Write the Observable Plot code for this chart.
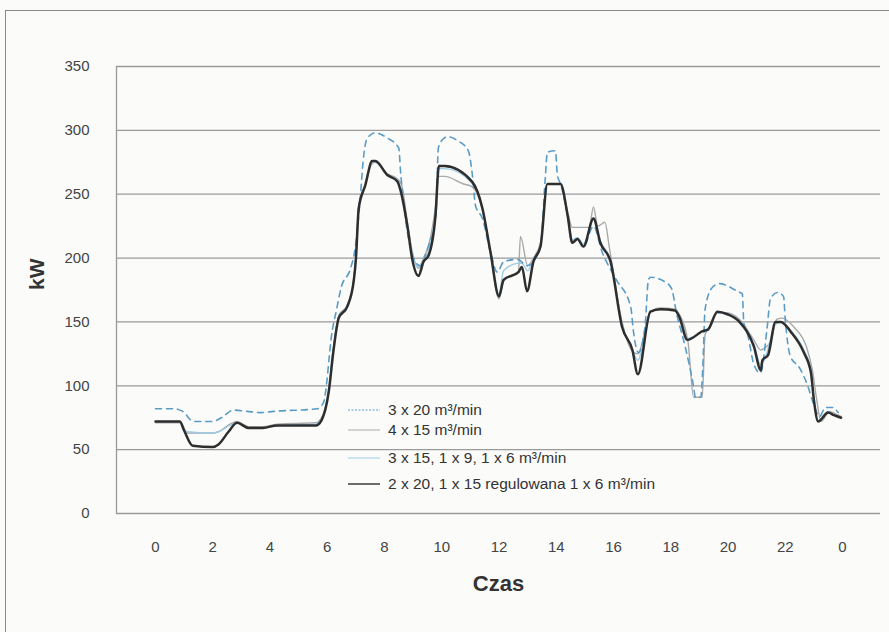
<!DOCTYPE html>
<html><head><meta charset="utf-8">
<script src="https://cdn.jsdelivr.net/npm/d3@7"></script>
<script src="https://cdn.jsdelivr.net/npm/@observablehq/plot@0.6"></script>
<style>
html,body{margin:0;padding:0;background:#fbfbfa;}
#wrap{position:relative;width:889px;height:632px;overflow:hidden;font-family:"Liberation Sans",Arial,sans-serif;}
#border{position:absolute;left:5px;top:10px;width:900px;height:640px;border-left:1.5px solid #8a8a8a;border-top:1.5px solid #8a8a8a;}
#chart{position:absolute;left:0;top:0;}
#chart g[aria-label*="tick label"] text, #chart g[aria-label*="tick label"]{font-size:15px !important;}
.lg{position:absolute;left:348px;height:18px;display:flex;align-items:center;font-size:15.5px;color:#333;white-space:nowrap;}
.lg svg{margin-right:8px;}
</style></head>
<body>
<div id="wrap"><div id="border"></div><div id="chart"></div><div id="legend"></div></div>
<script>
// Series names
const seriesNames = [
  "3 x 20 m³/min",
  "4 x 15 m³/min",
  "3 x 15, 1 x 9, 1 x 6 m³/min",
  "2 x 20, 1 x 15 regulowana 1 x 6 m³/min"
];
// Axis ticks
const yTicks = [0, 50, 100, 150, 200, 250, 300, 350];
const xTicks = [0, 2, 4, 6, 8, 10, 12, 14, 16, 18, 20, 22, 24];

// Series 1: 3 x 20 (dashed)
const hours1 = [0,0.65,0.95,1.33,2.0,2.3,2.73,3.2,3.67,4.13,5.65,5.87,6.18,6.3,6.5,6.8,6.97,7.16,7.25,7.4,7.68,8.1,8.5,8.56,8.68,8.84,9.08,9.25,9.5,9.8,9.88,10.0,10.2,10.55,10.93,11.07,11.18,11.42,11.7,11.94,12.16,12.64,13.0,13.45,13.62,13.69,13.97,14.04,14.15,14.4,14.56,14.74,14.95,15.3,15.6,16.1,16.6,16.7,16.87,17.1,17.22,17.3,17.75,18.03,18.2,18.5,18.8,18.86,19.05,19.12,19.2,19.45,19.7,20.33,20.5,20.55,20.7,20.9,21.13,21.37,21.48,21.73,21.94,22.0,22.18,22.5,22.8,22.97,23.2,23.4,23.65,23.85];
const kw1 = [82,82,80,72,72,75,81,80,79,80,82,87,144,157,178,191,207,249,275,294,298,294,286,268,241,215,197,194,207,235,286,292,295,292,284,265,241,231,205,189,197,199,194,209,264,283,284,265,258,233,212,215,209,225,205,183,162,142,126,146,183,185,182,176,157,131,99,91,91,115,160,177,180,174,172,150,139,117,110,146,168,173,170,152,123,114,99,87,76,83,83,79];

// Series 2: 4 x 15 (gray)
const hours2 = [0,0.85,1.1,2.0,2.2,2.6,2.85,3.25,3.75,4.25,5.6,5.8,6.05,6.22,6.4,6.7,6.93,7.0,7.1,7.33,7.57,7.68,8.1,8.45,8.6,8.8,8.97,9.19,9.36,9.54,9.78,9.9,10.1,10.76,11.05,11.42,11.7,12.0,12.16,12.68,12.75,13.0,13.2,13.45,13.69,14.15,14.4,14.56,15.15,15.3,15.45,15.7,15.85,16.3,16.66,16.85,17.29,17.64,18.15,18.3,18.6,18.8,19.1,19.2,19.35,19.63,19.98,20.4,20.9,21.15,21.3,21.5,21.7,21.9,22.3,22.75,22.95,23.1,23.25,23.55,23.75,23.95];
const kw2 = [71,71,63,63,64,70,72,68,68,70,71,75,96,130,155,163,184,200,240,258,274,275,266,262,257,228,205,192,200,210,240,264,264,258,256,238,204,168,182,190,217,194,200,212,258,258,236,224,224,240,225,228,209,150,127,125,158,161,160,156,135,91,91,140,146,157,157,152,136,128,130,135,152,153,146,130,112,89,72,80,78,76];

// Series 3: 3 x 15, 1 x 9, 1 x 6 (light blue)
const hours3 = [0,0.85,1.1,2.0,2.2,2.6,2.85,3.25,3.75,4.25,5.6,5.8,6.05,6.22,6.4,6.7,6.93,7.0,7.1,7.33,7.57,7.68,8.1,8.45,8.56,8.8,8.97,9.19,9.36,9.54,9.78,9.9,10.1,11.05,11.42,11.7,12.0,12.16,12.68,12.8,13.0,13.2,13.45,13.69,14.15,14.4,14.56,14.74,14.95,15.3,15.54,15.9,16.3,16.66,16.85,17.29,17.64,18.15,18.3,18.58,19.14,19.3,19.63,19.98,20.4,20.9,21.15,21.3,21.66,21.85,22.2,22.65,22.9,23.0,23.15,23.5,23.7,23.95];
const kw3 = [72,72,64,63,64,69,71,67,67,69,70,74,96,130,154,163,185,201,240,258,275,275,265,261,255,226,203,193,199,206,236,270,270,259,239,205,172,190,196,196,190,199,210,258,258,233,214,216,211,230,213,198,148,128,120,158,160,159,155,137,143,145,157,156,151,133,116,122,148,150,143,128,112,90,73,80,77,75];

// Series 4: 2 x 20, 1 x 15 regulowana 1 x 6 (dark)
const hours4 = [0,0.85,1.0,1.3,2.0,2.2,2.55,2.85,3.25,3.75,4.25,5.6,5.8,6.05,6.22,6.4,6.7,6.93,7.0,7.1,7.33,7.57,7.68,8.1,8.45,8.56,8.8,8.97,9.19,9.36,9.54,9.78,9.9,10.1,11.05,11.42,11.7,12.0,12.16,12.68,12.8,12.98,13.2,13.45,13.69,14.15,14.4,14.56,14.74,14.95,15.3,15.54,15.9,16.3,16.66,16.85,17.29,17.64,18.15,18.3,18.58,19.14,19.3,19.63,19.98,20.4,20.9,21.15,21.2,21.4,21.66,21.85,22.2,22.65,22.9,23.0,23.15,23.5,23.7,23.95];
const kw4 = [72,72,65,53,52,54,64,71,67,67,69,69,73,95,128,153,162,183,199,239,257,276,276,265,260,253,225,199,186,197,202,233,272,272,260,239,205,170,183,189,193,174,197,209,258,258,233,212,215,209,231,212,197,146,128,109,158,160,159,154,136,143,144,158,156,150,131,112,120,124,150,150,142,126,110,89,72,79,77,75];

const colors = ["#5b9cc6", "#a9a9a9", "#9fcbe3", "#2e2e2e"];
const widths = [1.6, 1.4, 1.4, 2.5];
const dashes = ["6,5", null, null, null];

const toRows = (hs, vs) => hs.map((h, i) => ({h, v: vs[i]}));
const s1 = toRows(hours1, kw1), s2 = toRows(hours2, kw2), s3 = toRows(hours3, kw3), s4 = toRows(hours4, kw4);

const xMin = (116 - 155) / 28.625, xMax = (880 - 155) / 28.625;
const curve = "monotone-x";

const chart = Plot.plot({
  width: 889, height: 632,
  marginLeft: 116, marginRight: 9, marginTop: 66, marginBottom: 119,
  style: {background: "transparent", color: "#444", fontFamily: "'Liberation Sans', Arial, sans-serif", fontSize: "15px"},
  x: {domain: [xMin, xMax]},
  y: {domain: [0, 350]},
  marks: [
    Plot.ruleY(yTicks, {stroke: "#9a9a9a", strokeWidth: 1.3}),
    Plot.ruleX([xMin], {y1: 0, y2: 350, stroke: "#9a9a9a", strokeWidth: 1.3}),
    Plot.axisY({ticks: yTicks, tickSize: 0, tickPadding: 27, label: null, fontSize: 15}),
    Plot.axisX({ticks: xTicks, tickSize: 0, tickPadding: 28, label: null, fontSize: 15, tickFormat: d => String(d % 24)}),
    Plot.line(s2, {x: "h", y: "v", stroke: colors[1], strokeWidth: widths[1], curve}),
    Plot.line(s3, {x: "h", y: "v", stroke: colors[2], strokeWidth: widths[2], curve}),
    Plot.line(s1, {x: "h", y: "v", stroke: colors[0], strokeWidth: widths[0], strokeDasharray: dashes[0], curve}),
    Plot.line(s4, {x: "h", y: "v", stroke: colors[3], strokeWidth: widths[3], curve}),
    Plot.text(["Czas"], {frameAnchor: "bottom", dy: 77, fontSize: 22, fontWeight: "bold", fill: "#333"}),
    Plot.text(["kW"], {frameAnchor: "left", dx: -79, rotate: -90, fontSize: 21, fontWeight: "bold", fill: "#333"})
  ]
});
document.getElementById("chart").appendChild(chart);

// Legend
const legendTops = [401, 421, 449, 475];
const leg = document.getElementById("legend");
seriesNames.forEach((name, i) => {
  const row = document.createElement("div");
  row.className = "lg";
  row.style.top = legendTops[i] + "px";
  const dash = dashes[i] ? `stroke-dasharray="2,1.5"` : "";
  row.innerHTML = `<svg width="32" height="6"><line x1="0" y1="3" x2="32" y2="3" stroke="${colors[i]}" stroke-width="${i === 3 ? 1.4 : 1}" ${dash}/></svg><span>${name}</span>`;
  leg.appendChild(row);
});
</script>
</body></html>
